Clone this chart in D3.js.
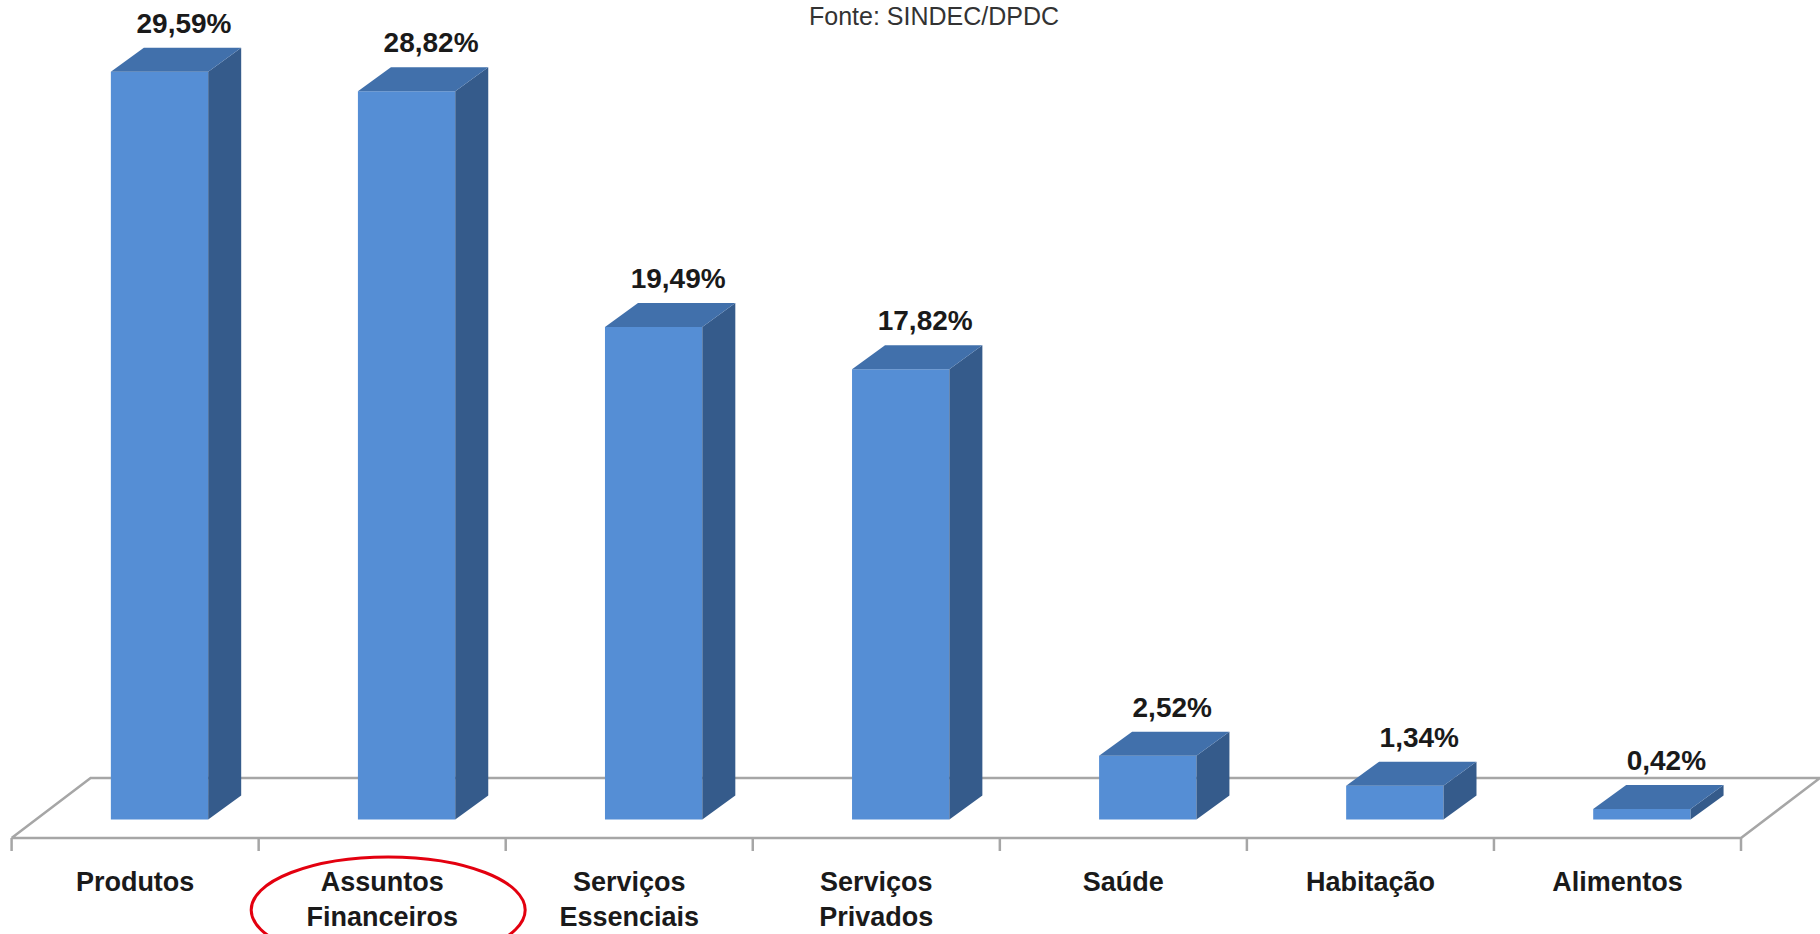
<!DOCTYPE html>
<html>
<head>
<meta charset="utf-8">
<script src="https://cdn.jsdelivr.net/npm/d3@7"></script>
<style>
  body { margin: 0; background: #fff; overflow: hidden; }
  text { font-family: "Liberation Sans", Arial, sans-serif; }
</style>
</head>
<body>
<script>
// categories (two lines where the original wraps) and values in %
var categories = ["Produtos", "Assuntos Financeiros", "Serviços Essenciais", "Serviços Privados", "Saúde", "Habitação", "Alimentos"];
var catLines = [["Produtos"], ["Assuntos", "Financeiros"], ["Serviços", "Essenciais"], ["Serviços", "Privados"], ["Saúde"], ["Habitação"], ["Alimentos"]];
var values = [29.59, 28.82, 19.49, 17.82, 2.52, 1.34, 0.42];
var sourceText = "Fonte: SINDEC/DPDC";
var highlighted = "Assuntos Financeiros";

var width = 1820, height = 934;

//floor geometry
var floorFront = 838, floorLeft = 11.6, floorRight = 1741;
var floorDx = 79, floorDy = 60;      // depth of the floor
var barDx = 33, barDy = 24;          // depth of each bar
var shiftX = 24.4, shiftY = 18.5;    // bar front sits inside the floor

var svg = d3.select("body").append("svg")
    .attr("width", width)
    .attr("height", height);

var x = d3.scaleBand()
    .domain(categories)
    .range([floorLeft, floorRight])
    .paddingInner(0.606)
    .paddingOuter(0.303);

var base = floorFront - shiftY;
var y = d3.scaleLinear()
    .domain([0, 30])
    .range([base, base - 758]);

var fmt = function(v){ return d3.format(".2f")(v).replace(".", ",") + "%"; };

//floor
var g = svg.append("g").attr("class", "floor")
    .attr("fill", "none")
    .attr("stroke", "#a6a6a6")
    .attr("stroke-width", 2.5);

g.append("path")
    .attr("d", d3.line()([
        [floorLeft, floorFront],
        [floorLeft + floorDx, floorFront - floorDy],
        [floorRight + floorDx, floorFront - floorDy],
        [floorRight, floorFront],
        [floorLeft, floorFront]
    ]));

//ticks at band edges
var step = x.step();
g.selectAll(".tick")
    .data(d3.range(categories.length + 1))
    .enter()
    .append("line")
    .attr("x1", function(i){ return floorLeft + i * step; })
    .attr("x2", function(i){ return floorLeft + i * step; })
    .attr("y1", floorFront)
    .attr("y2", floorFront + 13);

//bars
var bars = svg.selectAll(".bar")
    .data(values)
    .enter()
    .append("g")
    .attr("class", "bar");

function x0(d, i){ return x(categories[i]) + shiftX; }
function x1(d, i){ return x0(d, i) + x.bandwidth(); }

bars.append("path") // front
    .attr("fill", "#558ed5")
    .attr("d", function(d, i){
        return d3.line()([[x0(d,i), y(d)], [x1(d,i), y(d)], [x1(d,i), base], [x0(d,i), base]]) + "Z";
    });

bars.append("path") // side
    .attr("fill", "#355b8b")
    .attr("d", function(d, i){
        return d3.line()([[x1(d,i), y(d)], [x1(d,i) + barDx, y(d) - barDy], [x1(d,i) + barDx, base - barDy], [x1(d,i), base]]) + "Z";
    });

bars.append("path") // top
    .attr("fill", "#4170ab")
    .attr("d", function(d, i){
        return d3.line()([[x0(d,i), y(d)], [x1(d,i), y(d)], [x1(d,i) + barDx, y(d) - barDy], [x0(d,i) + barDx, y(d) - barDy]]) + "Z";
    });

//value labels
svg.selectAll(".val")
    .data(values)
    .enter()
    .append("text")
    .attr("class", "val")
    .attr("x", function(d, i){ return x(categories[i]) + shiftX + (x.bandwidth() + barDx) / 2 + 8; })
    .attr("y", function(d){ return y(d) - barDy - 15; })
    .attr("text-anchor", "middle")
    .attr("font-size", 28)
    .attr("font-weight", "bold")
    .attr("fill", "#1a1a1a")
    .text(fmt);

//category labels
var cats = svg.selectAll(".cat")
    .data(catLines)
    .enter()
    .append("text")
    .attr("class", "cat")
    .attr("text-anchor", "middle")
    .attr("font-size", 27)
    .attr("font-weight", "bold")
    .attr("fill", "#1a1a1a");

cats.selectAll("tspan")
    .data(function(d, i){ return d.map(function(t){ return {t: t, i: i}; }); })
    .enter()
    .append("tspan")
    .attr("x", function(d){ return x(categories[d.i]) + x.bandwidth() / 2; })
    .attr("y", function(d, j){ return 891 + j * 35; })
    .text(function(d){ return d.t; });

//red ellipse around the highlighted category
svg.append("ellipse")
    .attr("cx", x(highlighted) + x.bandwidth() / 2 + 6)
    .attr("cy", 910)
    .attr("rx", 137)
    .attr("ry", 53)
    .attr("fill", "none")
    .attr("stroke", "#e3000f")
    .attr("stroke-width", 3);

//source
svg.append("text")
    .attr("x", 934)
    .attr("y", 25)
    .attr("text-anchor", "middle")
    .attr("font-size", 25)
    .attr("fill", "#333")
    .text(sourceText);
</script>
</body>
</html>
